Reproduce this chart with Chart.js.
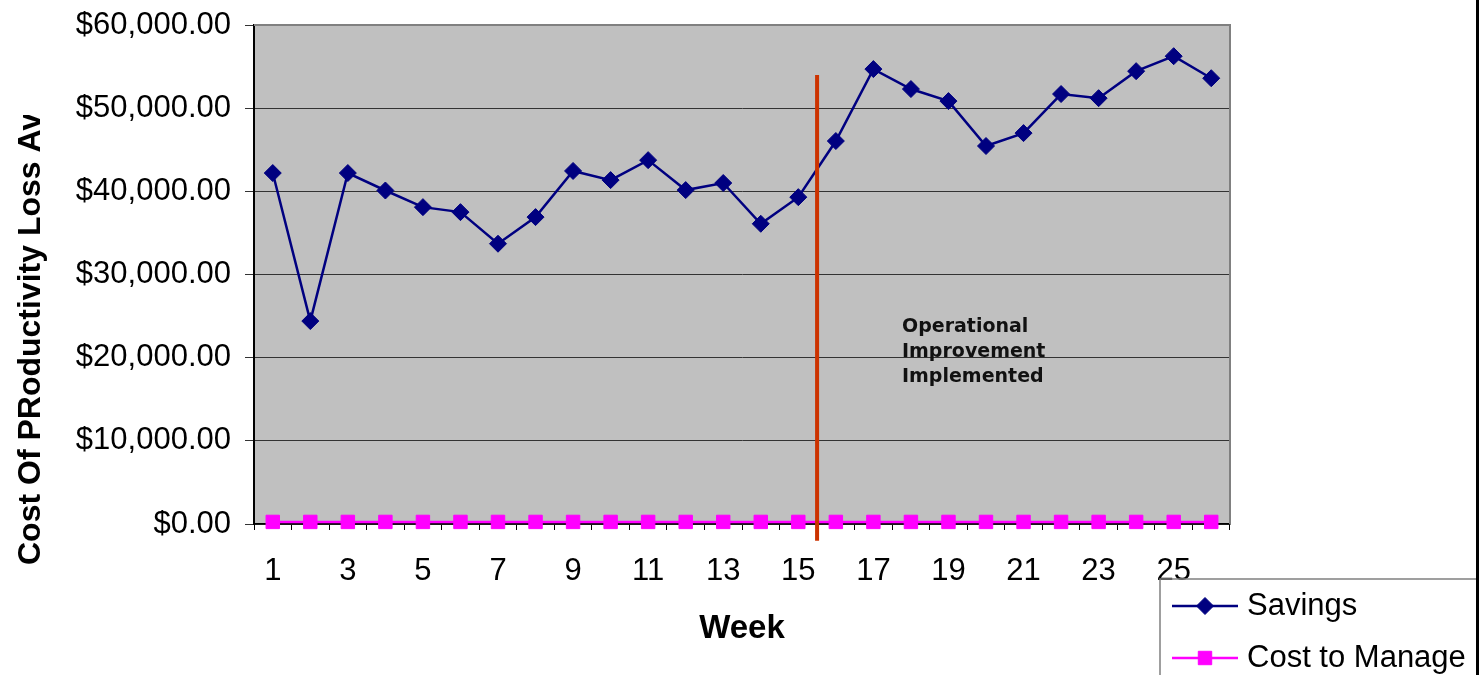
<!DOCTYPE html>
<html>
<head>
<meta charset="utf-8">
<script src="https://cdn.jsdelivr.net/npm/chart.js@4/dist/chart.umd.min.js"></script>
<style>
  html, body { margin: 0; padding: 0; background: #fff; }
  #wrap { width: 1479px; height: 675px; position: relative; }
</style>
</head>
<body>
<div id="wrap"><canvas id="c" width="1479" height="675"></canvas></div>
<script>
// Weekly savings vs. cost to manage
const weeks = ['1','2','3','4','5','6','7','8','9','10','11','12','13','14','15','16','17','18','19','20','21','22','23','24','25','26'];
const savings = [42200, 24400, 42200, 40100, 38100, 37500, 33700, 36900, 42450, 41350, 43750, 40150,
                 41000, 36100, 39300, 46050, 54700, 52300, 50850, 45450, 47000, 51700, 51200, 54450, 56250, 53600];
const costToManage = [250, 250, 250, 250, 250, 250, 250, 250, 250, 250, 250, 250, 250,
                      250, 250, 250, 250, 250, 250, 250, 250, 250, 250, 250, 250, 250];
const yTicks = [0, 10000, 20000, 30000, 40000, 50000, 60000];
const seriesNames = ['Savings', 'Cost to Manage'];
const yTitle = 'Cost Of PRoductivity Loss Avoided';
const xTitle = 'Week';
const noteLines = ['Operational', 'Improvement', 'Implemented'];
// Marker line drawn between week 15 and week 16
const changeIndex = 14.5;
const changeTop = 54000;
const changeBottom = -2000;

const FONT = "'Liberation Sans', Arial, sans-serif";

const decor = {
  id: 'decor',
  beforeDraw(chart) {
    const { ctx, chartArea: a } = chart;
    ctx.save();
    ctx.fillStyle = '#C0C0C0';
    ctx.fillRect(a.left, a.top, a.right - a.left, a.bottom - a.top);
    ctx.restore();
  },
  afterDatasetsDraw(chart) {
    const { ctx, chartArea: a, scales: { x, y } } = chart;
    ctx.save();
    // plot frame (top and right)
    ctx.strokeStyle = '#808080';
    ctx.lineWidth = 2;
    ctx.beginPath();
    ctx.moveTo(a.left, a.top);
    ctx.lineTo(a.right, a.top);
    ctx.lineTo(a.right, a.bottom);
    ctx.stroke();

    // change marker line
    const xc = x.getPixelForValue(changeIndex);
    ctx.strokeStyle = '#CC3300';
    ctx.lineWidth = 4;
    ctx.beginPath();
    ctx.moveTo(xc, y.getPixelForValue(changeTop));
    ctx.lineTo(xc, y.getPixelForValue(changeBottom));
    ctx.stroke();

    // annotation
    ctx.fillStyle = '#111';
    ctx.font = "bold 19px 'DejaVu Sans', Verdana, sans-serif";
    ctx.textAlign = 'left';
    ctx.textBaseline = 'alphabetic';
    noteLines.forEach((t, i) => ctx.fillText(t, 902, 332 + i * 25));

    // axis titles
    ctx.fillStyle = '#000';
    ctx.font = 'bold 33px ' + FONT;
    ctx.textAlign = 'center';
    ctx.textBaseline = 'middle';
    ctx.fillText(xTitle, (a.left + a.right) / 2, 629);

    ctx.save();
    ctx.beginPath();
    ctx.rect(0, 115, 80, 560);
    ctx.clip();
    ctx.translate(31, 565);
    ctx.rotate(-Math.PI / 2);
    ctx.font = 'bold 32px ' + FONT;
    ctx.textAlign = 'left';
    ctx.fillText(yTitle, 0, 0);
    ctx.restore();

    // legend
    const lx = 1160, ly = 579;
    ctx.strokeStyle = '#808080';
    ctx.lineWidth = 1.5;
    ctx.beginPath();
    ctx.moveTo(1479, ly);
    ctx.lineTo(lx, ly);
    ctx.lineTo(lx, 675);
    ctx.stroke();
    const rows = [606, 658];
    chart.data.datasets.forEach((ds, i) => {
      const ry = rows[i];
      ctx.strokeStyle = ds.borderColor;
      ctx.lineWidth = ds.borderWidth;
      ctx.beginPath();
      ctx.moveTo(1172, ry);
      ctx.lineTo(1238, ry);
      ctx.stroke();
      ctx.fillStyle = ds.pointBackgroundColor;
      ctx.strokeStyle = ds.pointBorderColor;
      ctx.lineWidth = 1;
      Chart.helpers.drawPoint(ctx, {
        pointStyle: ds.pointStyle, rotation: 0, radius: ds.pointRadius, borderWidth: 1
      }, 1205, ry);
      ctx.fillStyle = '#000';
      ctx.font = '31px ' + FONT;
      ctx.textAlign = 'left';
      ctx.textBaseline = 'middle';
      ctx.fillText(ds.label, 1247, ry);
    });

    // outer frame edge
    ctx.fillStyle = '#000';
    ctx.fillRect(1476, 0, 3, 675);
    ctx.restore();
  }
};

function noPad(s) {
  s.paddingTop = 0; s.paddingBottom = 0; s.paddingLeft = 0; s.paddingRight = 0;
}

new Chart(document.getElementById('c'), {
  type: 'line',
  data: {
    labels: weeks,
    datasets: [
      {
        label: seriesNames[0],
        data: savings,
        borderColor: '#000080',
        backgroundColor: '#000080',
        pointBackgroundColor: '#000080',
        pointBorderColor: '#000080',
        borderWidth: 2.5,
        pointStyle: 'rectRot',
        pointRadius: 8.5,
        pointBorderWidth: 1,
        tension: 0,
        clip: false
      },
      {
        label: seriesNames[1],
        data: costToManage,
        borderColor: '#FF00FF',
        backgroundColor: '#FF00FF',
        pointBackgroundColor: '#FF00FF',
        pointBorderColor: '#FF00FF',
        borderWidth: 2.5,
        pointStyle: 'rect',
        pointRadius: 9.5,
        pointBorderWidth: 1,
        tension: 0,
        clip: false
      }
    ]
  },
  options: {
    responsive: false,
    animation: false,
    devicePixelRatio: 1,
    layout: { padding: { left: 0, top: 25, right: 249, bottom: 0 } },
    plugins: { legend: { display: false }, tooltip: { enabled: false } },
    scales: {
      x: {
        type: 'category',
        offset: true,
        afterFit(s) { s.height = 151; noPad(s); },
        grid: { offset: true, drawOnChartArea: false, drawTicks: true, tickLength: 6, color: '#000', lineWidth: 1 },
        border: { color: '#000', width: 1.5 },
        ticks: {
          autoSkip: false,
          maxRotation: 0,
          minRotation: 0,
          padding: 23,
          color: '#000',
          font: { family: FONT, size: 31 },
          callback(v, i) { return i % 2 === 0 ? weeks[i] : ''; }
        }
      },
      y: {
        min: 0,
        max: 60000,
        afterFit(s) { s.width = 254; noPad(s); },
        afterBuildTicks(s) { s.ticks = yTicks.map(v => ({ value: v })); },
        grid: { color: '#333', lineWidth: 1, drawTicks: true, tickLength: 9 },
        border: { color: '#000', width: 2 },
        ticks: {
          padding: 14,
          color: '#000',
          font: { family: FONT, size: 31 },
          callback(v) {
            return '$' + Number(v).toLocaleString('en-US', { minimumFractionDigits: 2, maximumFractionDigits: 2 });
          }
        }
      }
    }
  },
  plugins: [decor]
});
</script>
</body>
</html>
